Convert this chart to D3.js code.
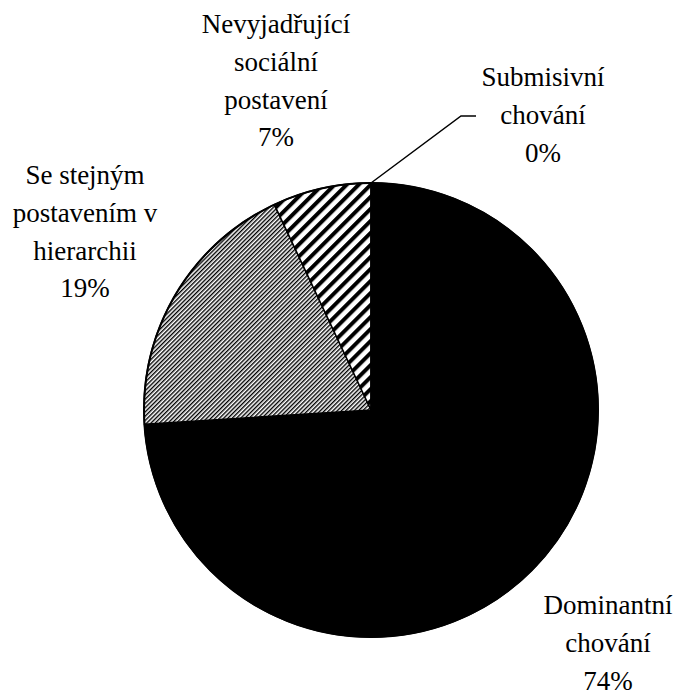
<!DOCTYPE html>
<html><head><meta charset="utf-8"><script src="https://cdn.jsdelivr.net/npm/d3@7"></script></head>
<body style="margin:0">
<svg id="s" width="682" height="695" font-family="Liberation Serif"></svg>
<script>
/* data */
const categories = ["Dominantní chování", "Se stejným postavením v hierarchii", "Nevyjadřující sociální postavení", "Submisivní chování"];
const values = [74, 19, 7, 0];
const labelLines = [["Dominantní", "chování", "74%"],
                    ["Se stejným", "postavením v", "hierarchii", "19%"],
                    ["Nevyjadřující", "sociální", "postavení", "7%"],
                    ["Submisivní", "chování", "0%"]];

/* layout */
const cx = 371, cy = 410, radius = 227;
const fontSize = 27, lineH = 37.8;
// label block centre x and first baseline y
const labelPos = [{x: 608, y: 614}, {x: 85, y: 184}, {x: 276, y: 33}, {x: 543, y: 86}];

const svg = d3.select("#s");

/* labels first, one text per line */
labelLines.forEach((lines, i) => {
  lines.forEach((s, j) => {
    svg.append("text")
      .attr("x", labelPos[i].x).attr("y", labelPos[i].y + j * lineH)
      .attr("font-size", fontSize)
      .attr("font-family", "Liberation Serif")
      .attr("text-anchor", "middle")
      .text(s);
  });
});

const defs = svg.append("defs");

/* fine upward diagonal hatch */
const p1 = defs.append("pattern").attr("id", "fine").attr("patternUnits", "userSpaceOnUse")
  .attr("width", 3).attr("height", 3).attr("patternTransform", "rotate(45)");
p1.append("rect").attr("width", 3).attr("height", 3).attr("fill", "#fff");
p1.append("rect").attr("width", 1.4).attr("height", 3).attr("fill", "#000");

/* wide upward diagonal stripes */
const p2 = defs.append("pattern").attr("id", "wide").attr("patternUnits", "userSpaceOnUse")
  .attr("width", 8.5).attr("height", 8.5).attr("patternTransform", "rotate(45)");
p2.append("rect").attr("width", 8.5).attr("height", 8.5).attr("fill", "#fff");
p2.append("rect").attr("width", 4).attr("height", 8.5).attr("fill", "#000");

const fills = ["#000", "url(#fine)", "url(#wide)", "#fff"];

const pie = d3.pie().sort(null).value(d => d)(values);
const arc = d3.arc().innerRadius(0).outerRadius(radius);

const g = svg.append("g").attr("transform", `translate(${cx},${cy})`);
g.selectAll("path.slice").data(pie).enter().append("path")
  .attr("class", "slice")
  .attr("d", arc)
  .attr("fill", (d, i) => fills[i])
  .attr("stroke", "#000").attr("stroke-width", 1.5).attr("stroke-linejoin", "round");

/* outline */
g.append("circle").attr("r", radius).attr("fill", "none").attr("stroke", "#000").attr("stroke-width", 2);

/* leader line for the zero slice */
const a = pie[3].startAngle;
const sx = radius * Math.sin(a), sy = -radius * Math.cos(a);
g.append("path")
  .attr("d", `M${sx},${sy} L${sx + 90},${sy - 67} L${sx + 105},${sy - 67}`)
  .attr("fill", "none").attr("stroke", "#000").attr("stroke-width", 1.5);
</script></body></html>
